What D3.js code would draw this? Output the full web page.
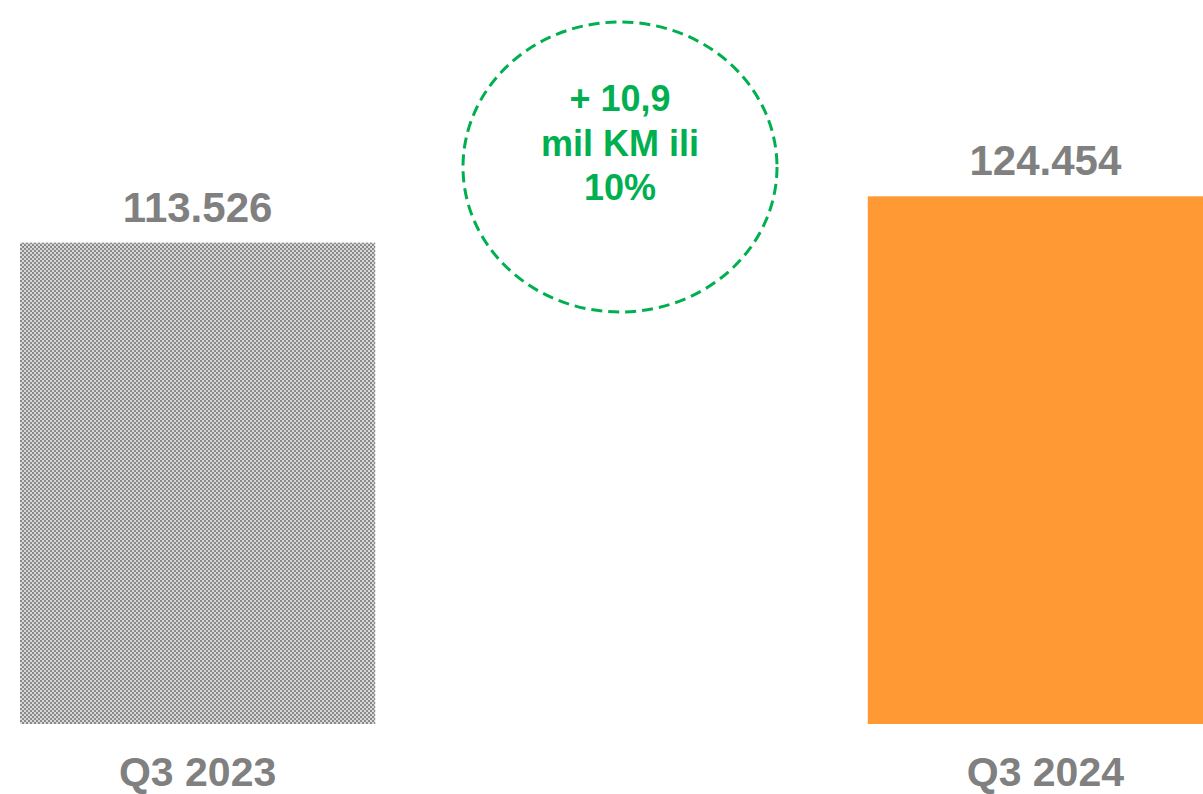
<!DOCTYPE html>
<html>
<head>
<meta charset="utf-8">
<script src="https://cdn.jsdelivr.net/npm/d3@7"></script>
<style>
  body { margin: 0; background: #fff; }
  svg { display: block; }
</style>
</head>
<body>
<script>
var categories = ['Q3 2023', 'Q3 2024'];
var values = [113526, 124454];
var valueLabels = ['113.526', '124.454'];
var changeLines = ['+ 10,9', 'mil KM ili', '10%'];

drawChart();

function drawChart() {
  var width = 1203;
  var height = 794;
  var baseline = 724;

  var svg = d3.select('body').append('svg')
    .attr('width', width).attr('height', height);

  // checker fill for the old quarter
  var pat = svg.append('defs').append('pattern')
    .attr('id', 'checker')
    .attr('patternUnits', 'userSpaceOnUse')
    .attr('width', 4).attr('height', 4);
  pat.append('rect').attr('width', 4).attr('height', 4).attr('fill', '#d8d8d8');
  pat.append('rect').attr('width', 2).attr('height', 2).attr('fill', '#8a8a8a');
  pat.append('rect').attr('x', 2).attr('y', 2).attr('width', 2).attr('height', 2).attr('fill', '#8a8a8a');

  var x = d3.scaleBand()
    .domain(categories)
    .range([20, 1223])
    .paddingInner(0.581)
    .paddingOuter(0);

  var y = d3.scaleLinear()
    .domain([0, 170755])
    .range([baseline, 0]);

  var fills = ['url(#checker)', '#ff9933'];

  svg.selectAll('rect.bar')
    .data(values)
    .enter()
    .append('rect')
    .attr('class', 'bar')
    .attr('x', function(d, i) { return x(categories[i]); })
    .attr('y', function(d) { return y(d); })
    .attr('width', x.bandwidth())
    .attr('height', function(d) { return baseline - y(d); })
    .attr('fill', function(d, i) { return fills[i]; });

  svg.selectAll('text.val')
    .data(values)
    .enter()
    .append('text')
    .attr('class', 'val')
    .attr('x', function(d, i) { return x(categories[i]) + x.bandwidth() / 2; })
    .attr('y', function(d) { return y(d) - 21; })
    .attr('text-anchor', 'middle')
    .style('font-family', 'Liberation Sans, Arial, sans-serif')
    .style('font-weight', 'bold')
    .style('font-size', '42px')
    .attr('fill', '#808080')
    .text(function(d, i) { return valueLabels[i]; });

  svg.selectAll('text.cat')
    .data(categories)
    .enter()
    .append('text')
    .attr('class', 'cat')
    .attr('x', function(d) { return x(d) + x.bandwidth() / 2; })
    .attr('y', 786)
    .attr('text-anchor', 'middle')
    .style('font-family', 'Liberation Sans, Arial, sans-serif')
    .style('font-weight', 'bold')
    .style('font-size', '41px')
    .attr('fill', '#808080')
    .text(function(d) { return d; });

  // change bubble
  var bubble = svg.append('g');
  bubble.append('ellipse')
    .attr('cx', 620).attr('cy', 167)
    .attr('rx', 157).attr('ry', 145)
    .attr('fill', 'none')
    .attr('stroke', '#00b050')
    .attr('stroke-width', 3)
    .attr('stroke-dasharray', '11 6');

  bubble.selectAll('text')
    .data(changeLines)
    .enter()
    .append('text')
    .attr('x', 620)
    .attr('y', function(d, i) { return 111 + i * 44.5; })
    .attr('text-anchor', 'middle')
    .style('font-family', 'Liberation Sans, Arial, sans-serif')
    .style('font-weight', 'bold')
    .style('font-size', '36px')
    .attr('fill', '#00b050')
    .text(function(d) { return d; });
}
</script>
</body>
</html>
